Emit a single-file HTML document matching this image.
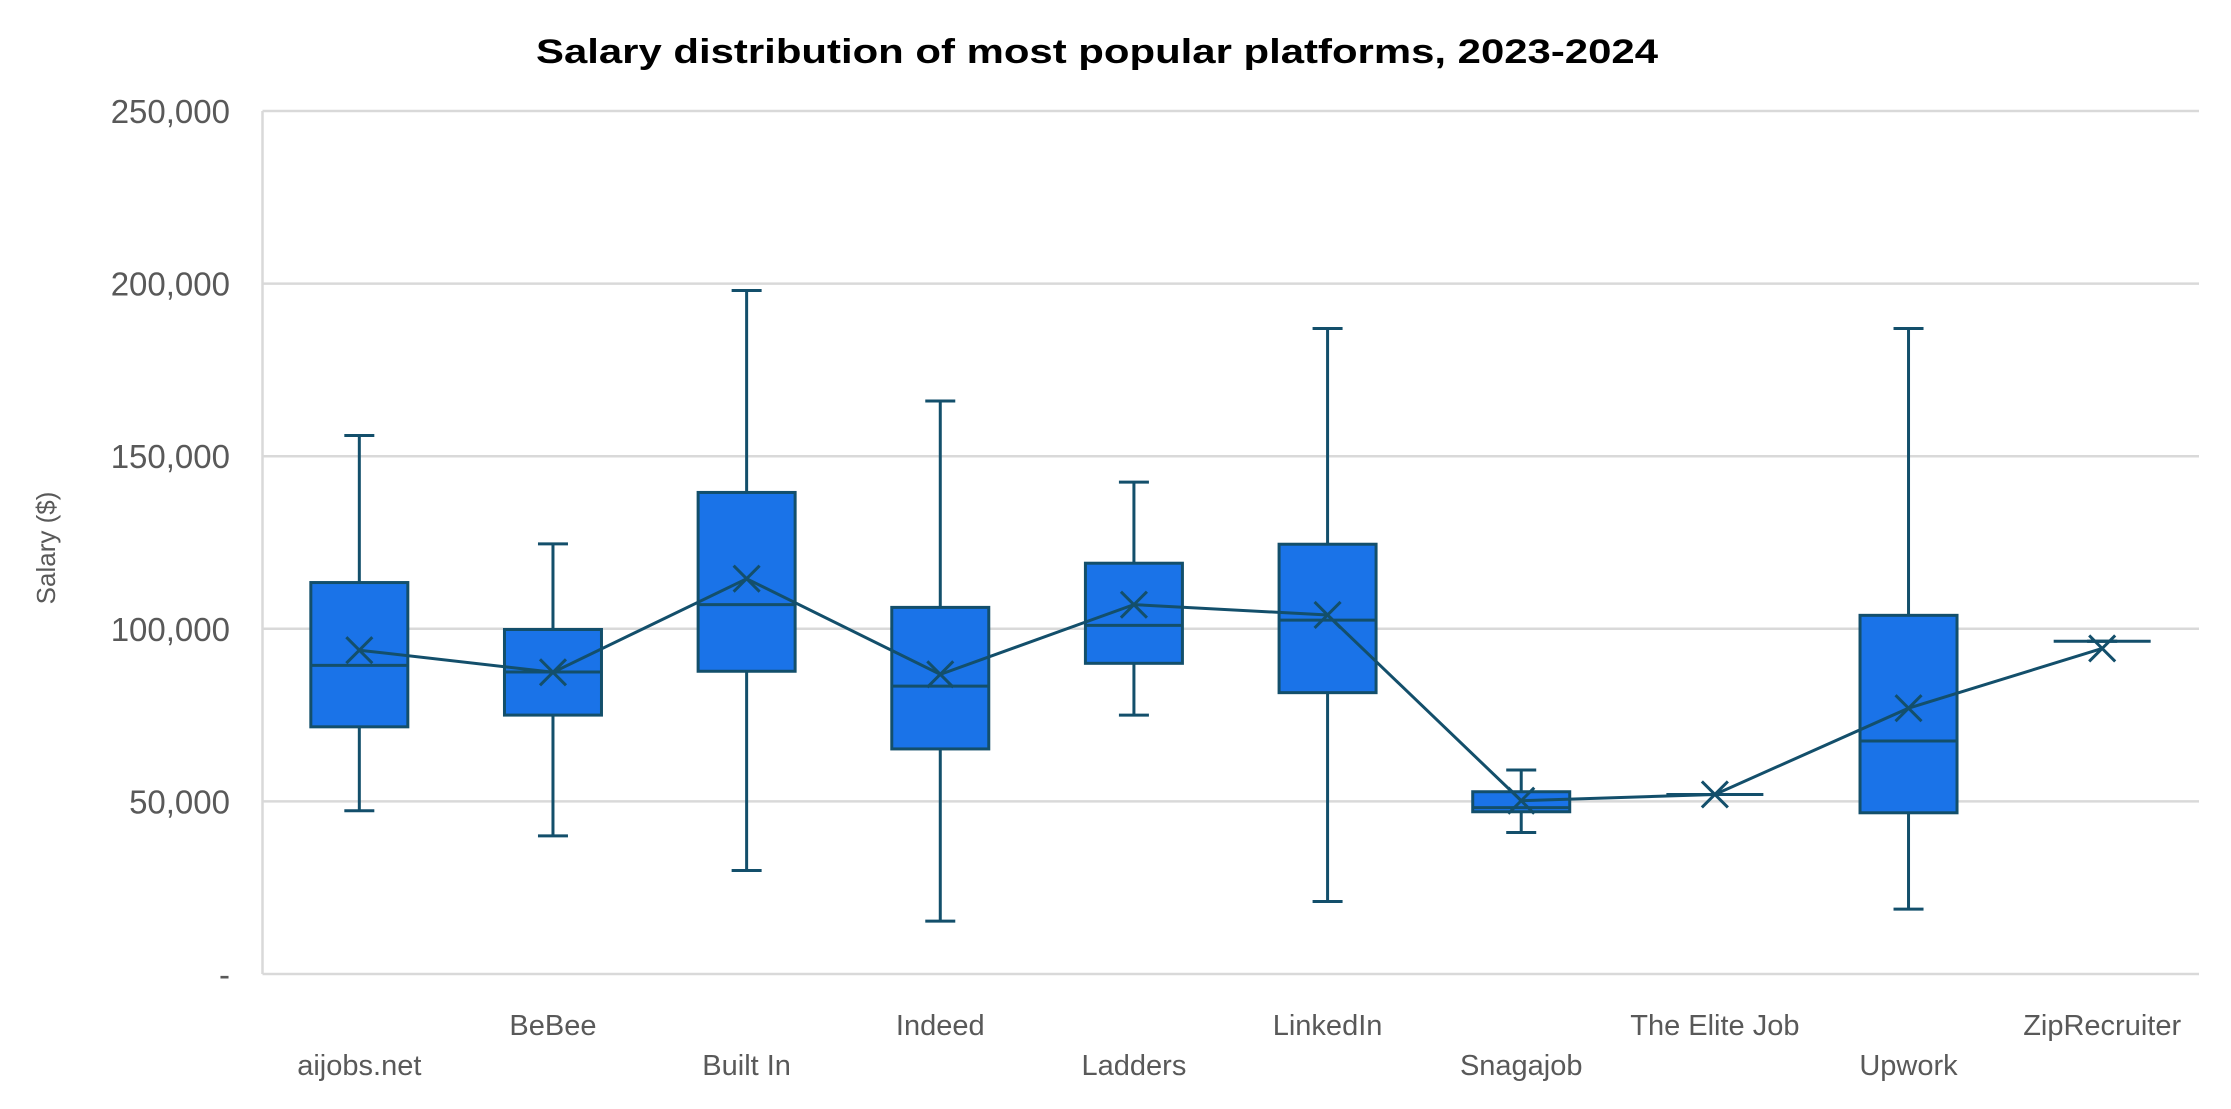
<!DOCTYPE html>
<html><head><meta charset="utf-8"><style>
html,body{margin:0;padding:0;background:#fff;}
svg{display:block;font-family:"Liberation Sans",sans-serif;}
</style></head><body>
<svg id="chart" width="2231" height="1109" viewBox="0 0 2231 1109">
<text x="1097" y="63" text-anchor="middle" font-size="34" font-weight="bold" fill="#000" textLength="1122" lengthAdjust="spacingAndGlyphs">Salary distribution of most popular platforms, 2023-2024</text>
<text transform="translate(55,548) rotate(-90)" text-anchor="middle" font-size="26" fill="#595959">Salary ($)</text>
<g id="grid"></g><g id="marks"></g><g id="labels"></g>
</svg>
<script>
const categories=["aijobs.net","BeBee","Built In","Indeed","Ladders","LinkedIn","Snagajob","The Elite Job","Upwork","ZipRecruiter"];
const minVals=[47300,40000,30000,15300,75000,21000,41000,52000,18800,96400];
const q1Vals=[71600,75000,87700,65200,90000,81500,47000,52000,46700,96400];
const medianVals=[89400,87500,107000,83400,101000,102500,48200,52000,67500,96400];
const q3Vals=[113400,99800,139500,106200,119000,124500,52800,52000,103900,96400];
const maxVals=[156000,124600,198000,166000,142500,187000,59100,52000,187000,96400];
const meanVals=[93800,87400,114500,86800,107000,104000,50200,52000,77000,94300];
const yTicks=[0,50000,100000,150000,200000,250000];
const yTickLabels=["-","50,000","100,000","150,000","200,000","250,000"];

const NS="http://www.w3.org/2000/svg";
const L=262.5,R=2199,T=111,B=974,YMAX=250000;
const bw=(R-L)/categories.length;
const y=v=>B-(v/YMAX)*(B-T);
const x=i=>L+bw*(i+0.5);
const STROKE="#134f6b",FILL="#1a73e8";
function mk(tag,attrs,parent){const e=document.createElementNS(NS,tag);for(const k in attrs)e.setAttribute(k,attrs[k]);parent.appendChild(e);return e;}
const grid=document.getElementById('grid'),marks=document.getElementById('marks'),labels=document.getElementById('labels');

yTicks.forEach((t,i)=>{
  const g=mk('line',{x1:L,x2:R,y1:y(t),y2:y(t),stroke:"#d9d9d9","stroke-width":2.5},grid);
  
  
  const tx=mk('text',{x:230,y:y(t)+12,"text-anchor":"end","font-size":33,fill:"#595959"},labels);
  tx.textContent=yTickLabels[i];
  
  
});
const ax=mk('line',{x1:L,x2:L,y1:T,y2:B,stroke:"#d9d9d9","stroke-width":2.5},grid);



const boxW=97,capW=30,mS=13;
categories.forEach((c,i)=>{
  const cx=x(i);
  const g=mk('g',{},marks);
  
  
  const ls={stroke:STROKE,"stroke-width":3};
  mk('line',Object.assign({x1:cx,x2:cx,y1:y(maxVals[i]),y2:y(q3Vals[i])},ls),g);
  mk('line',Object.assign({x1:cx,x2:cx,y1:y(q1Vals[i]),y2:y(minVals[i])},ls),g);
  mk('line',Object.assign({x1:cx-capW/2,x2:cx+capW/2,y1:y(maxVals[i]),y2:y(maxVals[i])},ls),g);
  mk('line',Object.assign({x1:cx-capW/2,x2:cx+capW/2,y1:y(minVals[i]),y2:y(minVals[i])},ls),g);
  const h=y(q1Vals[i])-y(q3Vals[i]);
  if(h>0.5){
    mk('rect',{x:cx-boxW/2,y:y(q3Vals[i]),width:boxW,height:h,fill:FILL,stroke:STROKE,"stroke-width":3},g);
  }
  mk('line',Object.assign({x1:cx-boxW/2,x2:cx+boxW/2,y1:y(medianVals[i]),y2:y(medianVals[i])},ls),g);
  const tx=mk('text',{x:cx,y:(i%2===0)?1075:1035,"text-anchor":"middle","font-size":29,fill:"#595959"},labels);
  tx.textContent=c;
  
  
});
const pts=categories.map((c,i)=>x(i)+","+y(meanVals[i])).join(" ");
const pl=mk('polyline',{points:pts,fill:"none",stroke:STROKE,"stroke-width":3},marks);


categories.forEach((c,i)=>{
  const cx=x(i),cy=y(meanVals[i]);
  const p=mk('path',{d:`M${cx-mS},${cy-mS}L${cx+mS},${cy+mS}M${cx-mS},${cy+mS}L${cx+mS},${cy-mS}`,stroke:STROKE,"stroke-width":3,fill:"none"},marks);
  
  
});
</script>
</body></html>
